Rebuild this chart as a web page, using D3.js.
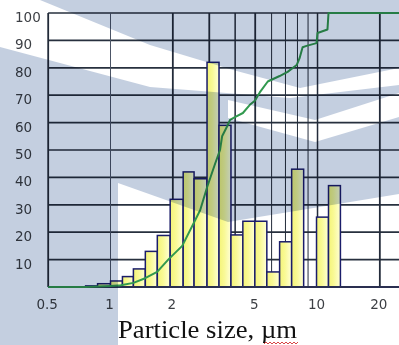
<!DOCTYPE html>
<html>
<head>
<meta charset="utf-8">
<script src="https://cdn.jsdelivr.net/npm/d3@7"></script>
<style>
  html, body { margin: 0; padding: 0; background: #fff; }
  svg { display: block; }
</style>
</head>
<body>
<div id="chart"></div>
<script>
// Histogram bins (particle size, um) and heights
const binEdges = [0.758, 0.866, 1.0, 1.142, 1.29, 1.473, 1.683, 1.942, 2.244, 2.533, 2.926,
  3.343, 3.818, 4.358, 4.98, 5.69, 6.56, 7.5, 8.57, 9.89, 11.3, 12.9];
const binValues = [0.4, 1.2, 2.2, 3.8, 6.6, 13, 18.8, 32, 42, 39.5, 82, 59, 19, 24,
  24, 5.5, 16.5, 43, 0, 25.5, 37];

// Cumulative curve
const cumSizes = [0.5, 0.76, 0.87, 1.0, 1.12, 1.29, 1.47, 1.68, 1.9, 2.22, 2.51, 2.71, 2.93,
  3.2, 3.38, 3.46, 3.65, 3.78, 3.99, 4.36, 4.71, 4.98, 5.26, 5.75, 6.56, 7.17, 7.93, 8.19,
  8.47, 8.85, 9.89, 10.0, 11.17, 11.3, 25];
const cumValues = [0, 0, 0.2, 0.4, 0.6, 1.5, 3.2, 5.5, 10, 15, 23, 28, 36.5, 45, 50, 55,
  58.5, 61, 62, 63.5, 66.5, 68, 71, 75, 77, 78.5, 81, 83.5, 87.5, 88, 89, 92.7, 94, 100, 100];

const xTickValues = [0.5, 1, 2, 5, 10, 20];
const xTickLabels = ["0.5", "1", "2", "5", "10", "20"];
const xGridValues = [1, 2, 3, 4, 5, 6, 7, 8, 9, 10, 20];
const yTickValues = [10, 20, 30, 40, 50, 60, 70, 80, 90, 100];

const width = 399, height = 345;

const x = d3.scaleLog().domain([0.5, 25]).range([48.2, 399.9]);
const y = d3.scaleLinear().domain([0, 100]).range([287, 13]);

const svg = d3.select('#chart').append('svg')
  .attr('width', width)
  .attr('height', height);

const defs = svg.append('defs');
const grad = defs.append('linearGradient')
  .attr('id', 'barFill')
  .attr('x1', '0%').attr('x2', '100%').attr('y1', '0%').attr('y2', '0%');
grad.append('stop').attr('offset', '0%').attr('stop-color', '#f4f478');
grad.append('stop').attr('offset', '45%').attr('stop-color', '#f9f996');
grad.append('stop').attr('offset', '100%').attr('stop-color', '#ffffd6');

svg.append('rect').attr('width', width).attr('height', height).attr('fill', '#fff');

// Horizontal grid
svg.append('g')
  .selectAll('line')
  .data(yTickValues)
  .join('line')
  .attr('x1', x(0.5)).attr('x2', width)
  .attr('y1', d => y(d)).attr('y2', d => y(d))
  .attr('stroke', '#27303e')
  .attr('stroke-width', 1.7);

// Vertical grid
const gridWidth = d => ([2, 3, 5, 20].includes(d) ? 1.8 : (d === 4 || d === 10) ? 1.5 : 1.0);
svg.append('g')
  .selectAll('line')
  .data(xGridValues)
  .join('line')
  .attr('x1', d => x(d)).attr('x2', d => x(d))
  .attr('y1', y(100)).attr('y2', y(0))
  .attr('stroke', d => d === 1 ? '#4c5566' : '#232b3a')
  .attr('stroke-width', gridWidth);

// Bars
const bins = binValues.map((v, i) => ({ x0: binEdges[i], x1: binEdges[i + 1], v }));
svg.append('g')
  .selectAll('rect')
  .data(bins.filter(d => d.v > 0))
  .join('rect')
  .attr('x', d => x(d.x0))
  .attr('width', d => x(d.x1) - x(d.x0))
  .attr('y', d => y(d.v))
  .attr('height', d => y(0) - y(d.v))
  .attr('fill', 'url(#barFill)')
  .attr('stroke', '#1b1d6a')
  .attr('stroke-width', 1.5);

// Axes lines
svg.append('line')
  .attr('x1', x(0.5)).attr('x2', x(0.5))
  .attr('y1', y(100)).attr('y2', y(0))
  .attr('stroke', '#222a38').attr('stroke-width', 1.8);
svg.append('line')
  .attr('x1', x(0.5)).attr('x2', width)
  .attr('y1', y(0)).attr('y2', y(0))
  .attr('stroke', '#2a2f50').attr('stroke-width', 1.8);

// Cumulative line
const line = d3.line()
  .x(d => x(d[0]))
  .y(d => y(d[1]));
svg.append('path')
  .datum(cumSizes.map((s, i) => [s, cumValues[i]]))
  .attr('d', line)
  .attr('fill', 'none')
  .attr('stroke', '#31994e')
  .attr('stroke-width', 2)
  .attr('stroke-linejoin', 'round');

// Y labels
svg.append('g')
  .selectAll('text')
  .data(yTickValues)
  .join('text')
  .attr('x', 15)
  .attr('y', d => y(d) + 9)
  .attr('font-family', 'DejaVu Sans, sans-serif')
  .attr('font-size', 13.5)
  .attr('fill', '#3c3f44')
  .text(d => d);

// X labels
svg.append('g')
  .selectAll('text')
  .data(xTickValues)
  .join('text')
  .attr('x', d => x(d) - 1)
  .attr('y', 309)
  .attr('text-anchor', 'middle')
  .attr('font-family', 'DejaVu Sans, sans-serif')
  .attr('font-size', 13.5)
  .attr('fill', '#3c3f44')
  .text((d, i) => xTickLabels[i]);

// Axis title
svg.append('text')
  .attr('x', 118)
  .attr('y', 338)
  .attr('font-family', 'Liberation Serif, Times New Roman, serif')
  .attr('font-size', 25)
  .attr('textLength', 179)
  .attr('lengthAdjust', 'spacingAndGlyphs')
  .attr('fill', '#111')
  .text('Particle size, µm');

// spell-check squiggle under "µm"
const sq = d3.range(0, 18).map(i => [264 + i * 2, i % 2 ? 342 : 344]);
svg.append('path')
  .attr('d', d3.line()(sq))
  .attr('fill', 'none')
  .attr('stroke', '#d23030')
  .attr('stroke-width', 0.9);

// Watermark overlay (blue, multiplied) with white cut-outs
const mask = defs.append('mask').attr('id', 'wm');
mask.append('rect').attr('width', width).attr('height', height).attr('fill', '#fff');
const cutouts = [
  [[0, 0], [40, 0], [150, 45], [233, 70], [300, 88], [399, 68], [399, 85], [290, 98], [150, 87], [0, 47]],
  [[228, 100], [315, 120], [399, 93], [399, 117], [315, 142], [228, 118]],
  [[118, 183], [228, 222], [399, 194], [399, 345], [118, 345]]
];
mask.selectAll('polygon')
  .data(cutouts)
  .join('polygon')
  .attr('points', d => d.map(p => p.join(',')).join(' '))
  .attr('fill', '#000');

svg.append('rect')
  .attr('width', width).attr('height', height)
  .attr('fill', '#c4cfe0')
  .attr('mask', 'url(#wm)')
  .style('mix-blend-mode', 'multiply');
</script>
</body>
</html>
